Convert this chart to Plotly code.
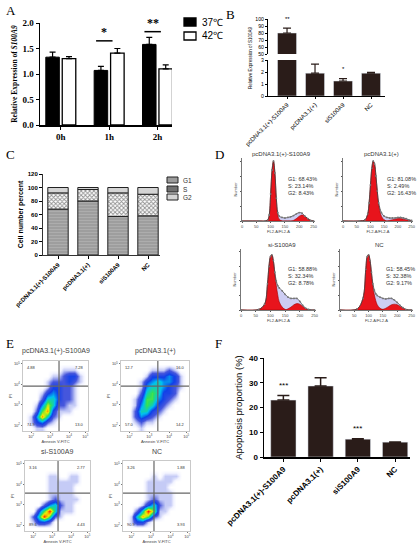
import plotly.graph_objects as go

W, H = 419, 550
SERIF = "Liberation Serif"
SANS = "Liberation Sans"
BROWN = "#2a1c19"

# ---- panel A : S100A9 expression at 37 / 42 C
times = ["0h", "1h", "2h"]
a_names = ["37℃", "42℃"]
a_37 = [1.33, 1.07, 1.58]
a_37_err = [0.10, 0.08, 0.14]
a_42 = [1.30, 1.41, 1.10]
a_42_err = [0.04, 0.09, 0.08]
a_sig_at = [1, 2]
a_sig_text = ["*", "**"]
a_sig_y = [1.65, 1.83]

# ---- panels B, C, F share the groups
groups = ["pcDNA3.1(+)-S100A9", "pcDNA3.1(+)", "siS100A9", "NC"]
b_val = [80, 1.9, 1.25, 1.9]
b_err = [7, 0.75, 0.2, 0.08]
b_sig = ["**", "", "*", ""]

c_phases = ["G1", "S", "G2"]
c_g1 = [68, 80, 57, 58]
c_s = [24, 17, 35, 32]
c_g2 = [8, 3, 8, 10]

f_val = [23.0, 28.7, 7.2, 6.0]
f_err = [1.8, 3.3, 0.15, 0.1]
f_sig = ["***", "", "***", ""]

# ---- panel D : cell cycle histograms (FL2-A)
d_titles = ["pcDNA3.1(+)-S100A9", "pcDNA3.1(+)", "si-S100A9", "NC"]
d_g1_pct = ["68.43", "81.08", "58.88", "58.45"]
d_s_pct = ["23.14", "2.49", "32.34", "32.38"]
d_g2_pct = ["8.43", "16.43", "8.78", "9.17"]
d_channel = [0, 60, 80, 90, 95, 100, 105, 110, 115, 120, 125, 130, 140, 150,
             160, 170, 180, 190, 200, 210, 220, 230, 240, 250]
d_total = [
    [0, 0, 0, 0.02, 0.10, 0.45, 0.85, 1.00, 0.80, 0.38, 0.14, 0.08, 0.06, 0.05,
     0.06, 0.07, 0.09, 0.12, 0.14, 0.13, 0.08, 0.04, 0.01, 0],
    [0, 0, 0.02, 0.12, 0.30, 0.60, 0.88, 1.00, 0.95, 0.75, 0.50, 0.30, 0.14, 0.08,
     0.06, 0.05, 0.05, 0.05, 0.06, 0.06, 0.05, 0.04, 0.02, 0.01],
    [0, 0.01, 0.10, 0.45, 0.75, 0.92, 0.95, 0.85, 0.65, 0.50, 0.42, 0.38, 0.33, 0.27,
     0.22, 0.20, 0.20, 0.20, 0.15, 0.08, 0.03, 0.01, 0, 0],
    [0, 0.02, 0.20, 0.70, 0.92, 0.95, 0.85, 0.65, 0.45, 0.34, 0.28, 0.25, 0.22, 0.20,
     0.19, 0.20, 0.20, 0.17, 0.13, 0.08, 0.04, 0.01, 0, 0],
]
d_g1_fit = [
    [0, 0, 0, 0.02, 0.10, 0.45, 0.85, 1.00, 0.80, 0.36, 0.10, 0.03, 0, 0,
     0, 0, 0, 0, 0, 0, 0, 0, 0, 0],
    [0, 0, 0.02, 0.12, 0.30, 0.60, 0.88, 1.00, 0.95, 0.75, 0.50, 0.27, 0.08, 0.02,
     0, 0, 0, 0, 0, 0, 0, 0, 0, 0],
    [0, 0.01, 0.10, 0.45, 0.75, 0.92, 0.95, 0.85, 0.62, 0.42, 0.26, 0.14, 0.05, 0.01,
     0, 0, 0, 0, 0, 0, 0, 0, 0, 0],
    [0, 0.02, 0.20, 0.70, 0.92, 0.95, 0.85, 0.62, 0.40, 0.26, 0.16, 0.09, 0.03, 0.01,
     0, 0, 0, 0, 0, 0, 0, 0, 0, 0],
]
d_g2_fit = [
    [0, 0, 0, 0, 0, 0, 0, 0, 0, 0, 0, 0, 0, 0,
     0, 0, 0.01, 0.04, 0.08, 0.10, 0.08, 0.04, 0.01, 0],
    [0, 0, 0, 0, 0, 0, 0, 0, 0, 0, 0, 0, 0, 0,
     0, 0.01, 0.02, 0.03, 0.04, 0.04, 0.03, 0.02, 0.01, 0],
    [0, 0, 0, 0, 0, 0, 0, 0, 0, 0, 0, 0, 0, 0,
     0.02, 0.05, 0.09, 0.11, 0.10, 0.06, 0.02, 0, 0, 0],
    [0, 0, 0, 0, 0, 0, 0, 0, 0, 0, 0, 0, 0, 0.01,
     0.03, 0.06, 0.09, 0.10, 0.09, 0.06, 0.03, 0.01, 0, 0],
]

# ---- panel E : Annexin V / PI density (coarse grid, top row first)
e_titles = ["pcDNA3.1(+)-S100A9", "pcDNA3.1(+)", "si-S100A9", "NC"]
e_quads = [["4.88", "7.28", "74.9", "13.0"],
           ["12.7", "16.0", "57.0", "14.2"],
           ["3.16", "2.77", "89.6", "4.43"],
           ["3.26", "1.88", "90.9", "3.93"]]
e_gate_x = [6.15, 6.0, 5.6, 5.05]
e_gate_y = [7.2, 7.2, 6.0, 6.0]
e_density = [
    [[0, 0, 0, 0, 0, 0, 0, 0, 0, 0, 0, 0],
     [0, 0, 0, 0, 0, 0, 0, 1, 1, 1, 0, 0],
     [0, 0, 0, 0, 0, 1, 1, 2, 3, 3, 1, 0],
     [0, 0, 0, 0, 1, 2, 2, 2, 3, 2, 1, 0],
     [0, 0, 0, 0, 1, 3, 3, 2, 2, 1, 0, 0],
     [0, 0, 0, 1, 3, 4, 3, 2, 2, 1, 0, 0],
     [0, 0, 0, 2, 5, 5, 3, 2, 2, 1, 0, 0],
     [0, 0, 1, 4, 7, 5, 2, 2, 1, 1, 0, 0],
     [0, 0, 2, 6, 8, 3, 1, 1, 1, 0, 0, 0],
     [0, 1, 4, 8, 5, 2, 1, 0, 0, 0, 0, 0],
     [0, 1, 3, 4, 2, 1, 0, 0, 0, 0, 0, 0],
     [0, 0, 1, 1, 0, 0, 0, 0, 0, 0, 0, 0]],
    [[0, 0, 0, 0, 0, 0, 0, 0, 0, 0, 0, 0],
     [0, 0, 0, 0, 0, 1, 1, 1, 2, 1, 0, 0],
     [0, 0, 0, 0, 1, 3, 3, 3, 4, 3, 1, 0],
     [0, 0, 0, 1, 3, 4, 5, 4, 4, 3, 1, 0],
     [0, 0, 0, 1, 4, 5, 5, 4, 3, 2, 1, 0],
     [0, 0, 0, 2, 5, 6, 5, 3, 3, 2, 0, 0],
     [0, 0, 1, 3, 6, 6, 4, 3, 2, 1, 0, 0],
     [0, 0, 1, 4, 6, 5, 3, 2, 1, 0, 0, 0],
     [0, 0, 2, 5, 5, 3, 2, 1, 0, 0, 0, 0],
     [0, 0, 2, 4, 3, 2, 1, 0, 0, 0, 0, 0],
     [0, 0, 1, 2, 1, 1, 0, 0, 0, 0, 0, 0],
     [0, 0, 0, 1, 0, 0, 0, 0, 0, 0, 0, 0]],
    [[0, 0, 0, 0, 0, 0, 0, 0, 0, 0, 0, 0],
     [0, 0, 0, 0, 0, 0, 0, 0, 0, 0, 0, 0],
     [0, 0, 0, 0, 1, 1, 0, 0, 1, 1, 0, 0],
     [0, 0, 0, 0, 1, 1, 1, 1, 1, 1, 0, 0],
     [0, 0, 0, 0, 1, 1, 1, 1, 1, 0, 0, 0],
     [0, 0, 0, 0, 1, 1, 1, 1, 1, 0, 0, 0],
     [0, 0, 0, 0, 1, 2, 1, 1, 1, 1, 0, 0],
     [0, 0, 0, 2, 4, 5, 2, 1, 1, 0, 0, 0],
     [0, 0, 3, 6, 9, 5, 1, 1, 1, 0, 0, 0],
     [0, 2, 5, 9, 6, 2, 1, 0, 0, 0, 0, 0],
     [0, 1, 3, 3, 2, 0, 0, 0, 0, 0, 0, 0],
     [0, 0, 0, 0, 0, 0, 0, 0, 0, 0, 0, 0]],
    [[0, 0, 0, 0, 0, 0, 0, 0, 0, 0, 0, 0],
     [0, 0, 0, 0, 0, 0, 0, 0, 0, 0, 0, 0],
     [0, 0, 0, 0, 0, 1, 0, 1, 1, 1, 0, 0],
     [0, 0, 0, 0, 1, 1, 1, 1, 1, 0, 0, 0],
     [0, 0, 0, 0, 1, 1, 1, 1, 0, 0, 0, 0],
     [0, 0, 0, 0, 1, 1, 1, 1, 1, 0, 0, 0],
     [0, 0, 0, 0, 1, 2, 1, 1, 1, 0, 0, 0],
     [0, 0, 0, 1, 3, 5, 2, 1, 1, 0, 0, 0],
     [0, 0, 2, 5, 9, 6, 1, 1, 0, 0, 0, 0],
     [0, 1, 5, 8, 6, 2, 1, 0, 0, 0, 0, 0],
     [0, 1, 3, 3, 1, 0, 0, 0, 0, 0, 0, 0],
     [0, 0, 0, 0, 0, 0, 0, 0, 0, 0, 0, 0]],
]
e_ticks = ["10<sup>2</sup>", "10<sup>3</sup>", "10<sup>4</sup>", "10<sup>5</sup>"]


def dx(a, b):
    return [a / W, b / W]


def dy(top, bot):
    return [1 - bot / H, 1 - top / H]


def gp_axis(**kw):
    # graphpad style axis
    base = dict(showline=True, linecolor="black", linewidth=1, ticks="outside",
                ticklen=3, tickcolor="black", showgrid=False, zeroline=False, automargin=False)
    base.update(kw)
    return base


def paper_text(px, py, text, font, xanchor="center", **kw):
    return dict(x=px / W, y=1 - py / H, xref="paper", yref="paper", text=text,
                xanchor=xanchor, yanchor="middle", showarrow=False, font=font, **kw)


fig = go.Figure()
lay = {}
ann = []

# ---------------- A
fig.add_trace(go.Bar(x=times, y=a_37, name=a_names[0], offset=-0.31, width=0.28,
                     marker=dict(color="black", line=dict(color="black", width=1)),
                     error_y=dict(type="data", array=a_37_err, arrayminus=[0] * 3,
                                  symmetric=False, color="black", thickness=1.2, width=3),
                     xaxis="x", yaxis="y", showlegend=False))
fig.add_trace(go.Bar(x=times, y=a_42, name=a_names[1], offset=0.03, width=0.28,
                     marker=dict(color="white", line=dict(color="black", width=1.3)),
                     error_y=dict(type="data", array=a_42_err, arrayminus=[0] * 3,
                                  symmetric=False, color="black", thickness=1.2, width=3),
                     xaxis="x", yaxis="y", showlegend=False))
lay["xaxis"] = gp_axis(domain=dx(40, 172), anchor="y", type="category", range=[-0.43, 2.3],
                       tickfont=dict(family=SERIF, size=9, color="black"), linewidth=1.5,
                       tickvals=times, ticktext=["<b>%s</b>" % t for t in times])
lay["yaxis"] = gp_axis(domain=dy(23, 125), anchor="x", range=[0, 2.0], tickvals=[0, 0.5, 1, 1.5, 2],
                       ticktext=["<b>0.0</b>", "<b>0.5</b>", "<b>1.0</b>", "<b>1.5</b>", "<b>2.0</b>"],
                       tickfont=dict(family=SERIF, size=9, color="black"), linewidth=1.5,
                       title=dict(text="<b>Relative Expression of <i>S100A9</i></b>",
                                  font=dict(family=SERIF, size=7.5, color="black"), standoff=4))
for i, k in enumerate(a_sig_at):
    fig.add_shape(type="line", xref="x", yref="y", x0=k - 0.27, x1=k + 0.07,
                  y0=a_sig_y[i], y1=a_sig_y[i], line=dict(color="black", width=1.5))
    ann.append(dict(x=k - 0.1, y=a_sig_y[i], xref="x", yref="y", text="<b>%s</b>" % a_sig_text[i],
                    showarrow=False, yanchor="bottom", font=dict(family=SERIF, size=12, color="black")))
# legend keys for A
leg_font = dict(family=SANS, size=10, color="black")
for i, (fill, ky) in enumerate([("black", 22), ("white", 36)]):
    fig.add_shape(type="rect", xref="paper", yref="paper", x0=184 / W, x1=196 / W,
                  y0=1 - (ky + 4) / H, y1=1 - (ky - 4) / H, fillcolor=fill,
                  line=dict(color="black", width=1.3))
    ann.append(paper_text(200, ky, a_names[i], leg_font, xanchor="left"))

# ---------------- B (broken axis)
for ya in ["y2", "y3"]:
    fig.add_trace(go.Bar(x=groups, y=b_val, width=0.68, marker=dict(color=BROWN),
                         error_y=dict(type="data", array=b_err, arrayminus=[0] * 4, symmetric=False,
                                      color=BROWN, thickness=1.2, width=4),
                         xaxis="x2", yaxis=ya, showlegend=False, offsetgroup="b"))
small = dict(family=SANS, size=5.2, color="black")
lay["xaxis2"] = gp_axis(domain=dx(268, 385), anchor="y2", type="category", range=[-0.68, 3.5],
                        tickangle=-45, tickfont=dict(family=SANS, size=6, color="black"), ticklen=2)
lay["yaxis2"] = gp_axis(domain=dy(60, 96), anchor="x2", range=[0, 3], tickvals=[0, 1, 2, 3],
                        tickfont=small, ticklen=2)
lay["yaxis3"] = gp_axis(domain=dy(19, 54), anchor="x2", range=[50, 100],
                        tickvals=[50, 60, 70, 80, 90, 100], tickfont=small, ticklen=2)
ann.append(paper_text(250, 57, "Relative Expression of S100A9",
                      dict(family=SANS, size=4.5, color="black"), textangle=-90))
for i, s in enumerate(b_sig):
    if not s:
        continue
    if b_val[i] > 3:
        ann.append(dict(x=groups[i], y=b_val[i] + b_err[i] + 6, xref="x2", yref="y3", text=s,
                        showarrow=False, yanchor="bottom",
                        font=dict(family=SANS, size=6, color="black")))
    else:
        ann.append(dict(x=groups[i], y=b_val[i] + b_err[i] + 0.4, xref="x2", yref="y2", text=s,
                        showarrow=False, yanchor="bottom",
                        font=dict(family=SANS, size=6, color="black")))

# ---------------- C (stacked cell cycle)
c_base_s = [g for g in c_g1]
c_base_g2 = [g + s for g, s in zip(c_g1, c_s)]
fig.add_trace(go.Bar(x=groups, y=c_g1, name="G1", width=0.68, offsetgroup="c",
                     marker=dict(color="#9c9c9c", line=dict(color="#222", width=1),
                                 pattern=dict(shape="-", fgcolor="#bdbdbd", size=3, solidity=0.4)),
                     xaxis="x4", yaxis="y4", showlegend=False))
fig.add_trace(go.Bar(x=groups, y=c_s, base=c_base_s, name="S", width=0.68, offsetgroup="c",
                     marker=dict(color="white", line=dict(color="#222", width=1),
                                 pattern=dict(shape="x", fgcolor="#222", size=3, solidity=0.5)),
                     xaxis="x4", yaxis="y4", showlegend=False))
fig.add_trace(go.Bar(x=groups, y=c_g2, base=c_base_g2, name="G2", width=0.68, offsetgroup="c",
                     marker=dict(color="#d4d4d4", line=dict(color="#222", width=1)),
                     xaxis="x4", yaxis="y4", showlegend=False))
cfont = dict(family=SANS, size=6, color="black")
lay["xaxis4"] = gp_axis(domain=dx(43, 160), anchor="y4", type="category", range=[-0.5, 3.4],
                        tickangle=-45, tickfont=cfont, tickvals=groups,
                        ticktext=["<b>%s</b>" % g for g in groups], linecolor="#333")
lay["yaxis4"] = gp_axis(domain=dy(174, 255), anchor="x4", range=[0, 120],
                        tickvals=[0, 20, 40, 60, 80, 100, 120],
                        ticktext=["<b>%d</b>" % v for v in [0, 20, 40, 60, 80, 100, 120]],
                        tickfont=cfont, linecolor="#333",
                        title=dict(text="<b>Cell number percent</b>",
                                   font=dict(family=SANS, size=7, color="black"), standoff=3))
# legend keys for C
c_key_fill = ["#9c9c9c", "#707070", "#d4d4d4"]
for i, ky in enumerate([180, 189, 197]):
    fig.add_shape(type="rect", xref="paper", yref="paper", x0=167 / W, x1=178 / W,
                  y0=1 - (ky + 3) / H, y1=1 - (ky - 3) / H, fillcolor=c_key_fill[i],
                  line=dict(color="#222", width=1))
    ann.append(paper_text(181, ky, c_phases[i], dict(family=SANS, size=6.5, color="#333"),
                          xanchor="left"))

# ---------------- D (histograms)
d_x = [(242, 315), (343, 413), (241, 316), (340, 413)]
d_y = [(158, 221), (158, 221), (249, 310), (249, 310)]
tiny = dict(family=SANS, size=4, color="#444")
for i in range(4):
    n = 5 + i
    xa, ya = "x%d" % n, "y%d" % n
    fig.add_trace(go.Scatter(x=d_channel, y=d_total[i], mode="lines", fill="tozeroy",
                             fillcolor="#cdcdf3", line=dict(width=0, shape="spline"),
                             xaxis=xa, yaxis=ya, showlegend=False))
    fig.add_trace(go.Scatter(x=d_channel, y=d_g1_fit[i], mode="lines", fill="tozeroy",
                             fillcolor="#e8141c", line=dict(width=0.6, color="#a00000", shape="spline"),
                             xaxis=xa, yaxis=ya, showlegend=False))
    fig.add_trace(go.Scatter(x=d_channel, y=d_g2_fit[i], mode="lines", fill="tozeroy",
                             fillcolor="#e8141c", line=dict(width=0.6, color="#a00000", shape="spline"),
                             xaxis=xa, yaxis=ya, showlegend=False))
    fig.add_trace(go.Scatter(x=d_channel, y=d_total[i], mode="lines+markers",
                             line=dict(width=0.8, color="#444", shape="spline"),
                             marker=dict(size=1.8, color="#777"),
                             xaxis=xa, yaxis=ya, showlegend=False))
    lay["xaxis%d" % n] = gp_axis(domain=dx(*d_x[i]), anchor=ya, range=[0, 255],
                                 tickvals=[0, 50, 100, 150, 200, 250], tickfont=tiny, ticklen=1.5,
                                 linewidth=0.8, linecolor="#555", tickcolor="#555",
                                 title=dict(text="FL2-A/FL2-A", font=tiny, standoff=1))
    lay["yaxis%d" % n] = gp_axis(domain=dy(*d_y[i]), anchor=xa, range=[0, 1.05],
                                 tickvals=[0, 0.25, 0.5, 0.75, 1.0], showticklabels=False, ticklen=1.5,
                                 linewidth=0.8, linecolor="#555", tickcolor="#555",
                                 title=dict(text="Number", font=tiny, standoff=2))
    cx = (d_x[i][0] + d_x[i][1]) / 2 + 3
    ann.append(paper_text(cx, d_y[i][0] - 4, d_titles[i], dict(family=SANS, size=6, color="#333")))
    ann.append(dict(x=0.6, y=0.75, xref="%s domain" % xa, yref="%s domain" % ya, xanchor="left",
                    align="left", showarrow=False, font=dict(family=SANS, size=5.5, color="#333"),
                    text="G1: %s%%<br>S: %s%%<br>G2: %s%%" % (d_g1_pct[i], d_s_pct[i], d_g2_pct[i])))

# ---------------- E (apoptosis density)
e_x = [(23, 88), (121, 189), (25, 90), (123, 190)]
e_y = [(361, 431), (361, 431), (461, 531), (461, 531)]
jet = [[0, "#ffffff"], [0.05, "#f2f3ff"], [0.11, "#c6ccf6"], [0.22, "#4656dc"],
       [0.36, "#1040e8"], [0.5, "#00c0f0"], [0.65, "#2ee05a"], [0.8, "#f2ec00"], [1, "#ff2000"]]
for i in range(4):
    n = 9 + i
    xa, ya = "x%d" % n, "y%d" % n
    fig.add_trace(go.Heatmap(z=e_density[i][::-1], colorscale=jet, zmin=0, zmax=9,
                             zsmooth="best", showscale=False, hoverinfo="skip",
                             xaxis=xa, yaxis=ya))
    fig.add_shape(type="line", xref=xa, yref="%s domain" % ya, x0=e_gate_x[i], x1=e_gate_x[i],
                  y0=0, y1=1, line=dict(color="#666", width=1.2))
    fig.add_shape(type="line", xref="%s domain" % xa, yref=ya, x0=0, x1=1, y0=e_gate_y[i],
                  y1=e_gate_y[i], line=dict(color="#666", width=1.2))
    lay["xaxis%d" % n] = dict(domain=dx(*e_x[i]), anchor=ya, range=[-0.5, 11.5], showline=True,
                              mirror=True, linecolor="#bbb", linewidth=0.8, showgrid=False,
                              zeroline=False, ticks="outside", ticklen=1.5, tickcolor="#777",
                              tickvals=[1, 4.5, 8, 11], ticktext=e_ticks, tickfont=tiny,
                              automargin=False,
                              title=dict(text="Annexin V-FITC", font=tiny, standoff=1))
    lay["yaxis%d" % n] = dict(domain=dy(*e_y[i]), anchor=xa, range=[-0.5, 11.5], showline=True,
                              mirror=True, linecolor="#bbb", linewidth=0.8, showgrid=False,
                              zeroline=False, ticks="outside", ticklen=1.5, tickcolor="#777",
                              tickvals=[0.5, 4, 7.5, 11], ticktext=e_ticks, tickfont=tiny,
                              automargin=False,
                              title=dict(text="PI", font=tiny, standoff=1))
    cx = (e_x[i][0] + e_x[i][1]) / 2
    ann.append(paper_text(cx, e_y[i][0] - 10, e_titles[i], dict(family=SANS, size=7, color="#444")))
    spots = [(0.03, 0.97, "left", "top"), (0.97, 0.97, "right", "top"),
             (0.03, 0.03, "left", "bottom"), (0.97, 0.03, "right", "bottom")]
    for (qx, qy, xan, yan), t in zip(spots, e_quads[i]):
        ann.append(dict(x=qx, y=qy, xref="%s domain" % xa, yref="%s domain" % ya, text=t,
                        xanchor=xan, yanchor=yan, showarrow=False,
                        font=dict(family=SANS, size=4, color="#333")))

# ---------------- F (apoptosis proportion)
fig.add_trace(go.Bar(x=groups, y=f_val, width=0.68, marker=dict(color=BROWN),
                     error_y=dict(type="data", array=f_err, arrayminus=[0] * 4, symmetric=False,
                                  color=BROWN, thickness=1.5, width=6),
                     xaxis="x13", yaxis="y13", showlegend=False))
ffont = dict(family=SANS, size=8, color="black")
lay["xaxis13"] = gp_axis(domain=dx(264, 410), anchor="y13", type="category", range=[-0.52, 3.4],
                         tickangle=-45, tickfont=ffont, tickvals=groups,
                         ticktext=["<b>%s</b>" % g for g in groups], linewidth=1.5)
lay["yaxis13"] = gp_axis(domain=dy(358, 457), anchor="x13", range=[0, 40],
                         tickvals=[0, 10, 20, 30, 40],
                         ticktext=["<b>%d</b>" % v for v in [0, 10, 20, 30, 40]],
                         tickfont=ffont, linewidth=1.5,
                         title=dict(text="Apoptosis proportion (%)",
                                    font=dict(family=SANS, size=9.5, color="black"), standoff=4))
for i, s in enumerate(f_sig):
    if s:
        ann.append(dict(x=groups[i], y=f_val[i] + f_err[i] + 1.5, xref="x13", yref="y13", text=s,
                        showarrow=False, yanchor="bottom",
                        font=dict(family=SANS, size=8, color="black")))

# ---------------- panel letters
letters = ["A", "B", "C", "D", "E", "F"]
letter_pos = [(4, 10), (224, 14), (4, 154), (213, 154), (4, 343), (213, 343)]
for L, (lx, ly) in zip(letters, letter_pos):
    ann.append(paper_text(lx, ly, L, dict(family=SERIF, size=13, color="black"), xanchor="left"))

fig.update_layout(width=W, height=H, margin=dict(l=0, r=0, t=0, b=0, autoexpand=False),
                  barmode="group", plot_bgcolor="white", paper_bgcolor="white",
                  hovermode=False, annotations=ann, **lay)
fig.write_html("out.html", config={"displayModeBar": False, "staticPlot": True},
               post_script="document.body.style.margin='0px';")
